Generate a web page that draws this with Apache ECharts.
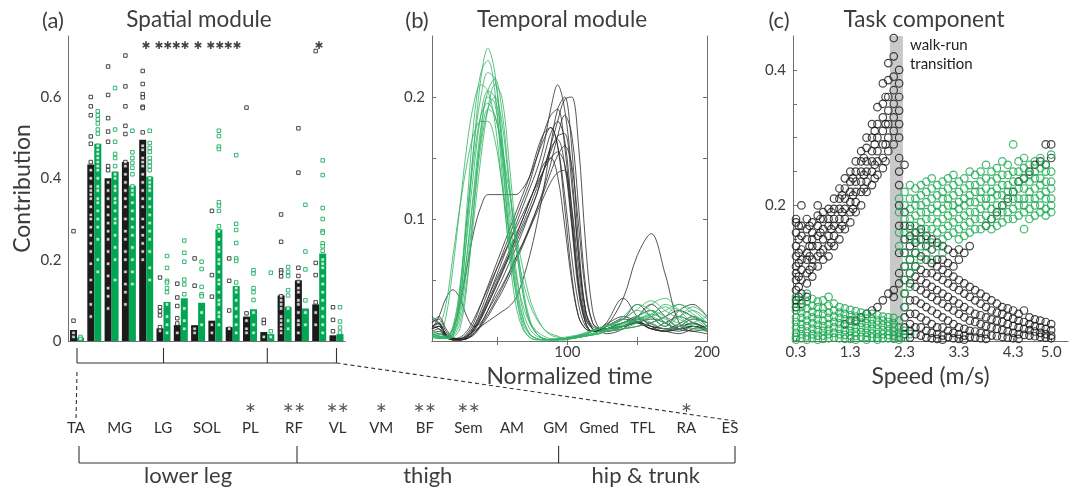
<!DOCTYPE html>
<html><head><meta charset="utf-8">
<script src="https://cdn.jsdelivr.net/npm/echarts@6/dist/echarts.min.js"></script>
<style>html,body{margin:0;padding:0;background:#fff}#c{width:1073px;height:487px}</style>
</head><body><div id="c"></div>
<script>
// ---------- Panel (a): spatial module ----------
const muscles = ['TA','MG','LG','SOL','PL','RF','VL','VM','BF','Sem','AM','GM','Gmed','TFL','RA','ES'];
const starsA = ['','','','','✱','✱✱','✱✱','✱','✱✱','✱✱','','','','','✱',''];
const starsLabel = ['','','','','*','**','**','*','**','**','','','','','*',''];
const starLevelA = 0.725;
const barBlack = [0.027,0.434,0.40,0.44,0.495,0.031,0.039,0.039,0.050,0.034,0.060,0.022,0.112,0.149,0.090,0.014];
const barGreen = [0.008,0.485,0.417,0.382,0.404,0.096,0.105,0.094,0.274,0.135,0.078,0.017,0.084,0.080,0.215,0.017];
const ptsBlack = [
  [0.27,0.05,0.02,0.01],
  [0.60,0.577,0.555,0.503,0.485,0.44,0.42,0.40,0.38,0.37,0.36,0.35,0.33,0.31,0.30,0.28,0.26,0.24,0.22,0.19,0.15,0.12,0.09,0.06],
  [0.675,0.605,0.548,0.515,0.49,0.43,0.42,0.39,0.37,0.35,0.33,0.31,0.29,0.27,0.25,0.22,0.19,0.16,0.13,0.11,0.08],
  [0.702,0.626,0.577,0.529,0.509,0.44,0.43,0.41,0.39,0.37,0.35,0.33,0.30,0.27,0.25,0.22,0.20,0.17,0.14,0.12,0.09],
  [0.664,0.632,0.607,0.599,0.576,0.573,0.513,0.48,0.47,0.45,0.44,0.43,0.41,0.39,0.37,0.35,0.33,0.30,0.28,0.26,0.24,0.22,0.20],
  [0.156,0.083,0.073,0.063,0.034,0.025],
  [0.141,0.107,0.086,0.056,0.043,0.02],
  [0.203,0.136,0.03,0.02],
  [0.32,0.162,0.109,0.04,0.02],
  [0.203,0.148,0.075,0.03],
  [0.574,0.068,0.05,0.03,0.02],
  [0.052,0.044,0.01],
  [0.311,0.244,0.174,0.168,0.159,0.11,0.10,0.09,0.08,0.06,0.05,0.04,0.03,0.02],
  [0.523,0.414,0.18,0.16,0.145,0.13,0.12,0.10,0.09,0.07,0.05,0.04,0.02],
  [0.713,0.192,0.162,0.095,0.07,0.04],
  [0.083,0.052,0.024]
];
const ptsGreen = [
  [0.01,0.005],
  [0.565,0.555,0.545,0.535,0.52,0.51,0.48,0.47,0.46,0.45,0.44,0.43,0.42,0.40,0.38,0.37,0.35,0.34,0.32,0.30,0.28,0.25,0.20,0.17],
  [0.622,0.52,0.49,0.46,0.45,0.43,0.41,0.40,0.38,0.37,0.35,0.34,0.32,0.30,0.29,0.26,0.23,0.20,0.15],
  [0.517,0.464,0.45,0.438,0.426,0.41,0.38,0.37,0.36,0.34,0.32,0.30,0.28,0.26,0.23,0.20,0.17,0.14],
  [0.517,0.487,0.475,0.465,0.45,0.44,0.43,0.42,0.40,0.39,0.38,0.37,0.35,0.33,0.31,0.29,0.27,0.25,0.22,0.18,0.15],
  [0.209,0.18,0.148,0.144,0.13,0.12,0.09,0.06,0.04,0.02],
  [0.247,0.217,0.195,0.151,0.139,0.115,0.08,0.05,0.03],
  [0.195,0.177,0.133,0.115,0.11,0.07,0.04],
  [0.517,0.504,0.478,0.472,0.341,0.333,0.32,0.282,0.27,0.25,0.23,0.22,0.20,0.19,0.17,0.15,0.14,0.12,0.10,0.09,0.07,0.06,0.04],
  [0.457,0.288,0.273,0.241,0.203,0.197,0.144,0.13,0.12,0.10,0.08,0.06,0.04,0.02],
  [0.174,0.166,0.13,0.12,0.101,0.07,0.04,0.02],
  [0.168,0.024,0.01],
  [0.182,0.17,0.16,0.125,0.112,0.08,0.05,0.03],
  [0.335,0.22,0.176,0.10,0.07,0.04],
  [0.444,0.408,0.327,0.30,0.27,0.266,0.24,0.233,0.222,0.20,0.19,0.18,0.16,0.14,0.12,0.10,0.08,0.06,0.04,0.02],
  [0.083,0.048,0.033,0.021]
];
const groups = [{name:'lower leg',from:0,to:5},{name:'thigh',from:5,to:11},{name:'hip & trunk',from:11,to:15}];
const yTicksA = [0.1,0.2,0.3,0.4,0.5,0.6,0.7];
const yLabelsA = [0,0.2,0.4,0.6];

// ---------- Panel (b): temporal module ----------
const timeX = [3,8,13,18,23,28,33,38,43,48,53,58,63,68,73,78,83,88,93,98,103,108,113,118,123,128,140,150,160,170,180,190,200];
const temporalBlack = [
  [.012,.015,.005,.001,.001,.003,.01,.02,.035,.05,.065,.08,.095,.11,.125,.14,.16,.19,.21,.19,.14,.07,.025,.01,.008,.01,.015,.02,.012,.008,.01,.015,.01],
  [.01,.012,.004,.001,.001,.002,.006,.014,.025,.038,.05,.063,.076,.09,.105,.12,.14,.16,.18,.198,.20,.16,.08,.025,.01,.008,.012,.016,.01,.008,.012,.014,.01],
  [.015,.018,.008,.002,.001,.004,.012,.025,.04,.055,.07,.085,.10,.115,.13,.15,.17,.185,.19,.16,.10,.045,.015,.008,.01,.012,.018,.015,.01,.008,.006,.01,.012],
  [.008,.01,.003,.001,.001,.002,.008,.018,.03,.043,.056,.07,.085,.10,.115,.13,.15,.17,.18,.165,.11,.05,.018,.01,.008,.006,.01,.02,.025,.015,.01,.012,.008],
  [.02,.015,.006,.002,.002,.006,.015,.03,.045,.06,.075,.09,.105,.12,.135,.155,.17,.175,.16,.12,.07,.03,.012,.008,.01,.014,.02,.016,.012,.01,.008,.012,.01],
  [.01,.012,.004,.001,.001,.003,.01,.02,.032,.045,.058,.07,.083,.096,.11,.125,.14,.155,.168,.17,.13,.07,.025,.012,.01,.012,.035,.07,.088,.055,.015,.008,.01],
  [.012,.014,.005,.001,.001,.003,.009,.018,.03,.042,.055,.068,.08,.093,.106,.12,.14,.158,.165,.145,.095,.04,.015,.008,.008,.01,.012,.02,.03,.02,.01,.008,.006],
  [.006,.008,.003,.001,.001,.002,.006,.013,.022,.032,.043,.055,.068,.08,.094,.108,.122,.138,.152,.16,.145,.095,.04,.015,.01,.008,.01,.012,.015,.02,.025,.02,.015],
  [.015,.02,.01,.003,.002,.005,.012,.022,.035,.048,.06,.073,.087,.10,.115,.13,.145,.15,.135,.095,.05,.02,.01,.008,.01,.015,.035,.02,.01,.015,.02,.015,.01],
  [.005,.006,.004,.01,.03,.06,.09,.11,.12,.12,.12,.12,.12,.125,.135,.15,.165,.175,.16,.11,.055,.02,.01,.008,.008,.01,.012,.015,.01,.008,.01,.012,.008],
  [.01,.02,.035,.042,.035,.02,.012,.015,.025,.035,.045,.056,.068,.08,.092,.105,.118,.13,.138,.14,.11,.06,.02,.01,.008,.01,.015,.018,.014,.01,.012,.018,.015],
  [.012,.01,.004,.002,.002,.004,.008,.012,.016,.02,.024,.028,.035,.05,.07,.095,.125,.16,.19,.20,.16,.08,.025,.01,.008,.01,.012,.015,.018,.015,.01,.012,.01],
  [.018,.014,.006,.002,.003,.008,.018,.03,.043,.056,.068,.08,.092,.104,.116,.128,.14,.15,.155,.145,.10,.045,.015,.008,.009,.012,.018,.03,.02,.012,.025,.03,.02],
  [.01,.012,.005,.001,.001,.002,.005,.012,.02,.03,.04,.052,.065,.078,.092,.108,.125,.145,.168,.185,.17,.11,.045,.015,.01,.01,.012,.015,.012,.01,.014,.02,.012]
];
const temporalGreen = [
  [.004,.003,.002,.004,.03,.09,.16,.215,.24,.22,.16,.09,.04,.012,.003,.001,.001,.001,.001,.001,.002,.003,.004,.005,.006,.008,.012,.02,.015,.01,.012,.018,.01],
  [.006,.004,.003,.01,.04,.10,.16,.20,.22,.215,.17,.10,.05,.02,.006,.002,.001,.001,.001,.002,.003,.004,.005,.008,.01,.012,.015,.02,.025,.02,.015,.02,.012],
  [.01,.005,.02,.06,.11,.16,.195,.21,.205,.18,.13,.08,.04,.015,.005,.002,.001,.001,.002,.003,.004,.005,.006,.008,.01,.012,.02,.03,.025,.015,.01,.015,.02],
  [.003,.002,.002,.008,.035,.085,.14,.185,.205,.20,.165,.11,.06,.025,.01,.004,.002,.001,.001,.001,.002,.003,.004,.005,.006,.008,.01,.015,.02,.03,.025,.02,.015],
  [.005,.004,.003,.005,.02,.06,.11,.16,.19,.20,.18,.13,.08,.04,.015,.006,.002,.001,.001,.002,.003,.004,.006,.008,.01,.012,.018,.025,.02,.012,.02,.028,.02],
  [.008,.006,.004,.01,.03,.07,.12,.165,.19,.185,.155,.115,.08,.05,.03,.018,.01,.006,.004,.002,.002,.003,.004,.006,.008,.01,.014,.018,.022,.018,.012,.01,.008],
  [.004,.003,.003,.004,.015,.05,.10,.15,.19,.21,.20,.15,.09,.045,.018,.006,.002,.001,.001,.001,.002,.003,.004,.005,.007,.009,.012,.016,.02,.025,.03,.022,.015],
  [.02,.015,.03,.07,.11,.145,.17,.18,.18,.165,.13,.09,.055,.03,.015,.008,.004,.002,.002,.002,.003,.004,.005,.006,.008,.01,.013,.017,.022,.028,.02,.012,.01],
  [.006,.004,.003,.006,.025,.07,.125,.175,.205,.215,.19,.135,.08,.04,.016,.006,.002,.001,.001,.002,.003,.004,.005,.006,.008,.01,.012,.02,.03,.035,.025,.015,.01],
  [.005,.004,.004,.012,.045,.10,.15,.185,.195,.185,.16,.125,.09,.06,.035,.02,.01,.005,.003,.002,.002,.003,.004,.005,.006,.008,.01,.012,.015,.02,.03,.025,.015],
  [.004,.003,.002,.003,.01,.045,.11,.17,.20,.195,.15,.09,.045,.018,.006,.002,.001,.001,.001,.002,.003,.005,.007,.009,.011,.013,.018,.026,.033,.025,.018,.012,.009],
  [.003,.002,.002,.006,.04,.11,.18,.22,.23,.205,.14,.075,.03,.01,.003,.001,.001,.001,.001,.002,.003,.004,.006,.008,.01,.012,.015,.018,.02,.015,.02,.025,.018]
];
const timeTicks = [50,100,150,200];
const timeLabels = [100,200];
const yTicksB = [0.05,0.1,0.15,0.2];
const yLabelsB = [0.1,0.2];

// ---------- Panel (c): task component ----------
const speedTicks = [0.3,1.3,2.3,3.3,4.3,5.0];
const yTicksC = [0.05,0.1,0.15,0.2,0.25,0.3,0.35,0.4];
const yLabelsC = [0.2,0.4];
const transitionBand = [2.03,2.27];
// rows: [speed, value, value, ...]
const taskBlackRows = [
  [0.3,.18,.175,.16,.14,.125,.11,.10,.09,.075,.06,.05],
  [0.35,.17,.15,.13,.115,.095,.08,.065],
  [0.4,.20,.17,.155,.135,.12,.105,.09,.07,.055],
  [0.5,.18,.165,.15,.13,.12,.10,.085,.065],
  [0.55,.17,.14,.125,.105],
  [0.6,.175,.16,.15,.14,.12,.11,.095],
  [0.7,.20,.185,.17,.155,.14,.125,.11],
  [0.75,.18,.16,.13],
  [0.8,.19,.18,.165,.15,.135,.12],
  [0.9,.195,.18,.17,.155,.14,.125],
  [0.95,.19,.165,.145],
  [1.0,.21,.195,.18,.17,.155,.14],
  [1.1,.225,.21,.195,.18,.165,.15],
  [1.15,.215,.19,.17],
  [1.2,.24,.225,.21,.195,.18,.165,.025],
  [1.3,.25,.235,.22,.205,.19,.175,.03],
  [1.35,.24,.215,.195],
  [1.4,.265,.25,.235,.22,.205,.19,.03],
  [1.5,.28,.265,.25,.235,.22,.20,.035],
  [1.55,.27,.245,.225],
  [1.6,.30,.285,.265,.25,.235,.22,.04],
  [1.7,.32,.30,.28,.265,.25,.23,.045],
  [1.75,.31,.29,.26,.24],
  [1.8,.345,.32,.30,.28,.265,.245,.05],
  [1.9,.38,.35,.33,.31,.29,.27,.255,.06],
  [1.95,.36,.32,.29,.265],
  [2.0,.41,.385,.36,.34,.32,.30,.28,.07],
  [2.1,.447,.42,.39,.37,.35,.33,.31,.29,.075,.065],
  [2.2,.40,.38,.36,.34,.32,.30,.27,.25,.23,.20,.17,.13,.10,.085],
  [2.3,.26,.19,.17,.15,.13,.11,.09,.07,.05,.035,.02,.01],
  [2.4,.17,.155,.14,.12,.10,.085,.06,.04,.025,.015,.005],
  [2.5,.16,.145,.13,.11,.095,.08,.06,.04,.02,.01],
  [2.6,.165,.15,.125,.105,.09,.075,.055,.035,.02,.008],
  [2.7,.155,.14,.12,.10,.085,.07,.05,.03,.015,.005],
  [2.8,.15,.135,.115,.10,.08,.065,.045,.025,.012,.004],
  [2.9,.145,.12,.11,.095,.075,.06,.04,.02,.01,.003],
  [3.0,.14,.12,.105,.09,.07,.055,.035,.02,.008,.002],
  [3.1,.135,.115,.10,.085,.065,.05,.03,.015,.006],
  [3.2,.13,.11,.095,.08,.06,.045,.025,.012,.004],
  [3.3,.135,.12,.09,.075,.055,.04,.02,.01,.003],
  [3.4,.13,.085,.07,.05,.035,.018,.008,.002],
  [3.5,.14,.08,.065,.045,.03,.015,.006],
  [3.6,.075,.06,.04,.028,.014,.005],
  [3.7,.07,.055,.038,.025,.012,.004],
  [3.8,.17,.065,.05,.035,.022,.01,.003],
  [3.9,.18,.06,.045,.032,.02,.008],
  [4.0,.19,.055,.042,.03,.018,.007],
  [4.1,.20,.05,.04,.028,.016,.006],
  [4.2,.21,.048,.036,.025,.014,.005],
  [4.3,.22,.045,.033,.022,.012,.004],
  [4.4,.235,.04,.03,.02,.01,.003],
  [4.5,.24,.045,.028,.018,.009],
  [4.6,.25,.035,.025,.016,.008],
  [4.7,.26,.032,.022,.014,.007],
  [4.8,.265,.03,.02,.012,.006],
  [4.9,.29,.26,.028,.018,.01,.005],
  [5.0,.29,.27,.025,.016,.008,.004]
];
const taskGreenRows = [
  [0.3,.065,.055,.045,.035,.028,.02,.012,.006,.002],
  [0.4,.06,.05,.042,.034,.025,.018,.01,.004],
  [0.5,.07,.058,.048,.038,.03,.022,.014,.007,.002],
  [0.6,.062,.052,.043,.035,.026,.018,.01,.004],
  [0.7,.058,.05,.04,.032,.024,.016,.008,.002],
  [0.8,.06,.048,.04,.03,.022,.015,.008,.003],
  [0.9,.065,.052,.042,.034,.025,.017,.01,.004],
  [1.0,.055,.045,.036,.028,.02,.012,.005],
  [1.1,.05,.042,.034,.026,.018,.01,.004],
  [1.2,.048,.04,.032,.024,.016,.009,.003],
  [1.3,.046,.038,.03,.022,.015,.008,.003],
  [1.4,.044,.036,.028,.02,.013,.007,.002],
  [1.5,.042,.034,.027,.02,.013,.006],
  [1.6,.04,.033,.026,.019,.012,.006,.002],
  [1.7,.04,.032,.025,.018,.011,.005],
  [1.8,.038,.03,.024,.017,.01,.005,.002],
  [1.9,.036,.03,.023,.016,.01,.004],
  [2.0,.035,.028,.022,.015,.009,.004],
  [2.1,.034,.026,.02,.014,.008,.003],
  [2.2,.21,.19,.16,.14,.03,.02,.012,.006,.002],
  [2.3,.22,.20,.18,.16,.13,.11,.09,.07,.05,.015,.005],
  [2.4,.23,.21,.195,.18,.165,.15,.12,.10,.08,.01],
  [2.5,.225,.21,.20,.185,.17,.15,.13,.11],
  [2.6,.23,.215,.20,.19,.175,.16,.14,.12],
  [2.7,.235,.22,.205,.19,.18,.165,.15,.13],
  [2.8,.24,.225,.21,.195,.18,.165,.145,.12],
  [2.9,.23,.215,.20,.19,.175,.16,.14],
  [3.0,.235,.22,.21,.195,.18,.165,.15,.13],
  [3.1,.24,.225,.21,.20,.185,.17,.155],
  [3.2,.245,.23,.215,.20,.19,.175,.16],
  [3.3,.235,.22,.205,.195,.18,.165,.15],
  [3.4,.24,.225,.21,.20,.185,.17,.155],
  [3.5,.25,.23,.215,.205,.19,.175,.16],
  [3.6,.245,.23,.22,.205,.19,.18,.165],
  [3.7,.25,.235,.22,.21,.195,.18,.165],
  [3.8,.26,.24,.225,.21,.20,.185,.17],
  [3.9,.25,.235,.22,.21,.195,.18,.165],
  [4.0,.255,.24,.225,.215,.20,.185,.17],
  [4.1,.265,.245,.23,.215,.20,.19,.175],
  [4.2,.26,.245,.23,.22,.205,.19,.18],
  [4.3,.29,.25,.235,.22,.21,.195,.18],
  [4.4,.265,.25,.235,.225,.21,.20,.185],
  [4.5,.27,.255,.24,.225,.21,.20,.19,.165],
  [4.6,.26,.245,.235,.22,.21,.195,.18],
  [4.7,.265,.25,.24,.225,.21,.20,.185],
  [4.8,.27,.255,.24,.23,.215,.20,.19],
  [4.9,.26,.25,.235,.22,.21,.195,.185],
  [5.0,.275,.25,.235,.225,.21,.20,.19]
];

// ---------- build ----------
const FONT = 'Lato, "Open Sans", sans-serif';
const TXT = '#3d3d3d';
const AXC = '#6f6f6f';
const BLACK = '#1b1b1b';
const GREEN = '#00a651';
const LGREEN = '#2fb463';

const flatPts = arr => arr.flatMap((vals, i) => vals.map(v => [i, v]));
const flatRows = rows => rows.flatMap(r => r.slice(1).map(v => [r[0], v]));
const fmt1 = v => (v === 0 ? '0' : v.toFixed(1));

const axisBase = {
  axisLine: {show: true, lineStyle: {color: AXC, width: 1}},
  splitLine: {show: false},
  axisLabel: {color: TXT, fontFamily: FONT, fontSize: 15},
  nameTextStyle: {color: TXT, fontFamily: FONT, fontSize: 23}
};

const series = [];
series.push({type: 'bar', xAxisIndex: 0, yAxisIndex: 0, data: barBlack, barWidth: 7, barGap: '0%', itemStyle: {color: BLACK}, z: 2});
series.push({type: 'bar', xAxisIndex: 0, yAxisIndex: 0, data: barGreen, barWidth: 7, barGap: '0%', itemStyle: {color: GREEN}, z: 2});
series.push({type: 'scatter', xAxisIndex: 0, yAxisIndex: 0, data: flatPts(ptsBlack), symbol: 'rect', symbolSize: 3.5, symbolOffset: [-3.5, 0], itemStyle: {color: '#fff', borderColor: BLACK, borderWidth: 1}, z: 3});
series.push({type: 'scatter', xAxisIndex: 0, yAxisIndex: 0, data: flatPts(ptsGreen), symbol: 'rect', symbolSize: 3.5, symbolOffset: [3.5, 0], itemStyle: {color: '#fff', borderColor: GREEN, borderWidth: 1}, z: 3});
series.push({type: 'scatter', xAxisIndex: 0, yAxisIndex: 0,
  data: starsA.map((s, i) => [i, starLevelA]).filter((d, i) => starsA[i]),
  symbolSize: 1, itemStyle: {color: 'rgba(0,0,0,0)'},
  label: {show: true, position: 'inside', formatter: p => starsA[p.data[0]], fontFamily: '"DejaVu Sans"', fontWeight: 'bold', fontSize: 10.5, color: '#111'}, z: 4});

temporalBlack.forEach(arr => series.push({type: 'line', xAxisIndex: 1, yAxisIndex: 1, data: timeX.map((x, k) => [x, arr[k]]), smooth: 0.35, showSymbol: false, lineStyle: {color: '#2a2a2a', width: 0.8}, z: 2}));
temporalGreen.forEach(arr => series.push({type: 'line', xAxisIndex: 1, yAxisIndex: 1, data: timeX.map((x, k) => [x, arr[k]]), smooth: 0.35, showSymbol: false, lineStyle: {color: LGREEN, width: 0.8}, z: 3}));

series.push({type: 'scatter', xAxisIndex: 3, yAxisIndex: 3, data: [], z: 1,
  markArea: {silent: true, itemStyle: {color: '#c9c9c9'}, data: [[{xAxis: transitionBand[0]}, {xAxis: transitionBand[1]}]]}});
series.push({type: 'scatter', xAxisIndex: 3, yAxisIndex: 3, data: flatRows(taskBlackRows), symbol: 'circle', symbolSize: 7.5,
  itemStyle: {color: 'rgba(0,0,0,0)', borderColor: '#151515', borderWidth: 1.2}, z: 3});
series.push({type: 'scatter', xAxisIndex: 3, yAxisIndex: 3, data: flatRows(taskGreenRows), symbol: 'circle', symbolSize: 7.5,
  itemStyle: {color: 'rgba(0,0,0,0)', borderColor: '#14a64c', borderWidth: 1.2}, z: 4});

const option = {
  animation: false,
  backgroundColor: '#fff',
  grid: [
    {left: 68.35, top: 36, width: 276.8, height: 305},
    {left: 432, top: 36, width: 275, height: 305},
    {left: 793, top: 36, width: 275, height: 305},
    {left: 54.2, top: 390, width: 697.6, height: 10}
  ],
  xAxis: [
    Object.assign({}, axisBase, {gridIndex: 0, type: 'category', data: muscles, axisTick: {show: false}, axisLabel: {show: false}}),
    Object.assign({}, axisBase, {gridIndex: 1, type: 'value', min: 3, max: 200, name: 'Normalized time', nameLocation: 'middle', nameGap: 23,
      axisTick: {inside: true, length: 4, lineStyle: {color: AXC}, customValues: timeTicks},
      axisLabel: Object.assign({}, axisBase.axisLabel, {customValues: timeLabels, margin: 4})}),
    Object.assign({}, axisBase, {gridIndex: 1, type: 'value', position: 'top', min: 3, max: 200,
      axisTick: {inside: true, length: 4, lineStyle: {color: AXC}, customValues: [50,100,150]}, axisLabel: {show: false}}),
    Object.assign({}, axisBase, {gridIndex: 2, type: 'value', min: 0.245, max: 5.31, name: 'Speed (m/s)', nameLocation: 'middle', nameGap: 23,
      axisTick: {inside: true, length: 3, lineStyle: {color: AXC}, customValues: speedTicks},
      axisLabel: Object.assign({}, axisBase.axisLabel, {customValues: speedTicks, formatter: v => v.toFixed(1), margin: 4})}),
    {gridIndex: 3, type: 'category', data: muscles, axisLine: {show: false}, axisTick: {show: false},
      axisLabel: {margin: 2, interval: 0, color: '#2e2e2e',
        formatter: (v, i) => '{s|' + (starsLabel[i] || ' ') + '}\n{m|' + v + '}',
        rich: {s: {fontFamily: FONT, fontSize: 27, lineHeight: 18, color: '#555', padding: [8, 0, 0, 0]},
               m: {fontFamily: FONT, fontSize: 15, lineHeight: 17, color: '#2e2e2e'}}}}
  ],
  yAxis: [
    Object.assign({}, axisBase, {gridIndex: 0, type: 'value', min: 0, max: 0.75, name: 'Contribution', nameLocation: 'middle', nameGap: 34,
      axisTick: {inside: true, length: 4, lineStyle: {color: AXC}, customValues: yTicksA},
      axisLabel: Object.assign({}, axisBase.axisLabel, {customValues: yLabelsA, formatter: fmt1, margin: 7})}),
    Object.assign({}, axisBase, {gridIndex: 1, type: 'value', min: 0, max: 0.25,
      axisTick: {inside: true, length: 4, lineStyle: {color: AXC}, customValues: yTicksB},
      axisLabel: Object.assign({}, axisBase.axisLabel, {customValues: yLabelsB, formatter: fmt1, margin: 7})}),
    Object.assign({}, axisBase, {gridIndex: 1, type: 'value', position: 'right', min: 0, max: 0.25,
      axisTick: {inside: true, length: 4, lineStyle: {color: AXC}, customValues: yTicksB}, axisLabel: {show: false}}),
    Object.assign({}, axisBase, {gridIndex: 2, type: 'value', min: 0, max: 0.45,
      axisTick: {inside: true, length: 4, lineStyle: {color: AXC}, customValues: yTicksC},
      axisLabel: Object.assign({}, axisBase.axisLabel, {customValues: yLabelsC, formatter: fmt1, margin: 7})}),
    {gridIndex: 3, type: 'value', show: false}
  ],
  series: series
};

const chart = echarts.init(document.getElementById('c'), null, {renderer: 'canvas'});
chart.setOption(option);

// ---------- annotations derived from axes ----------
const ax = i => chart.convertToPixel({xAxisIndex: 0}, i);
const lx = i => chart.convertToPixel({xAxisIndex: 4}, i);
const yBase = chart.convertToPixel({yAxisIndex: 0}, 0);
const bandRight = chart.convertToPixel({xAxisIndex: 3}, transitionBand[1]);
const seg = (x1, y1, x2, y2, dash) => ({type: 'line', silent: true, shape: {x1, y1, x2, y2},
  style: {stroke: '#333', lineWidth: 1.1, lineDash: dash ? [4, 3] : null}});
const txt = (x, y, text, size, extra) => ({type: 'text', silent: true, x, y,
  style: Object.assign({text, fill: TXT, font: size + 'px ' + FONT, textAlign: 'center', textVerticalAlign: 'middle'}, extra || {})});

const els = [];
const last = muscles.length - 1;
const bIdx = [0].concat(groups.map(g => g.to));
// upper bracket under panel (a)
els.push(seg(ax(0), yBase + 22, ax(last), yBase + 22));
bIdx.forEach(i => els.push(seg(ax(i), yBase + 7, ax(i), yBase + 22)));
// lower bracket under the muscle names
const lbTop = 446, lbBot = 463;
els.push(seg(lx(0) + 3, lbBot, lx(last) + 5, lbBot));
bIdx.forEach((i, k) => els.push(seg(lx(i) + 3 + (k === bIdx.length - 1 ? 2 : 0), lbTop, lx(i) + 3 + (k === bIdx.length - 1 ? 2 : 0), lbBot)));
groups.forEach(g => els.push(txt((lx(g.from) + lx(g.to)) / 2 + 3, 476, g.name, 22)));
// dashed zoom lines
els.push(seg(ax(0), yBase + 31, lx(0), 420, true));
els.push(seg(ax(last), yBase + 22, lx(last) + 5, 421, true));
// titles
els.push(txt(53, 21, '(a)', 22));
els.push(txt(199, 20, 'Spatial module', 22.5));
els.push(txt(417, 21, '(b)', 22));
els.push(txt(562, 20, 'Temporal module', 22.5));
els.push(txt(779, 21, '(c)', 22));
els.push(txt(924, 20, 'Task component', 22.5));
// transition note
els.push(txt(bandRight + 7, 45, 'walk-run', 15, {textAlign: 'left', fill: '#222'}));
els.push(txt(bandRight + 7, 64, 'transition', 15, {textAlign: 'left', fill: '#222'}));

chart.setOption({graphic: {elements: els}});
</script>
</body></html>
